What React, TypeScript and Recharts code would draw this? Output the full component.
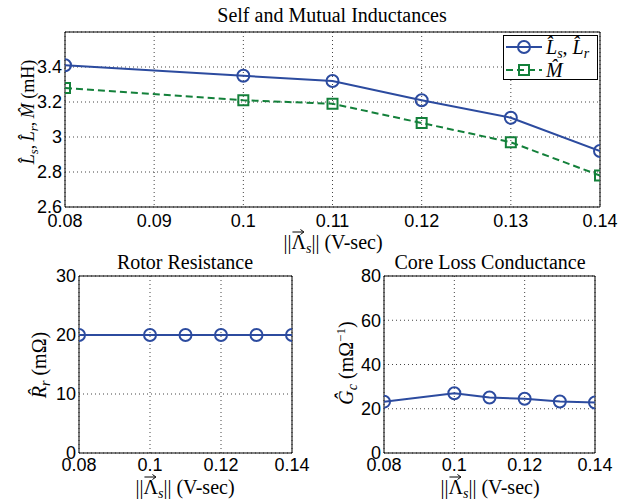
import React from 'react';
import { LineChart, Line, XAxis, YAxis, CartesianGrid, ReferenceArea } from 'recharts';

const fluxLevels = [0.08, 0.1, 0.11, 0.12, 0.13, 0.14];
const selfInductance = [3.41, 3.35, 3.32, 3.21, 3.11, 2.92];
const mutualInductance = [3.28, 3.21, 3.19, 3.08, 2.97, 2.78];
const rotorResistance = [20, 20, 20, 20, 20, 20];
const coreConductance = [23.2, 27.0, 25.1, 24.5, 23.3, 22.8];

const topXTicks = [0.08, 0.09, 0.1, 0.11, 0.12, 0.13, 0.14];
const topYTicks = [2.6, 2.8, 3, 3.2, 3.4];
const bottomXTicks = [0.08, 0.1, 0.12, 0.14];
const rrTicks = [0, 10, 20, 30];
const gcTicks = [0, 20, 40, 60, 80];

const BLUE = '#2C4B9F';
const GREEN = '#13803A';
const SANS = '"Liberation Sans", Arial, sans-serif';
const SERIF = '"Liberation Serif", "DejaVu Serif", serif';

const inductanceData = fluxLevels.map((x, i) => ({ x, ls: selfInductance[i], m: mutualInductance[i] }));
const rrData = fluxLevels.map((x, i) => ({ x, v: rotorResistance[i] }));
const gcData = fluxLevels.map((x, i) => ({ x, v: coreConductance[i] }));

const tickStyle = { fill: '#000', fontSize: 18, fontFamily: SANS };

const circleDot = { r: 6, fill: 'none', stroke: BLUE, strokeWidth: 2 };

const SquareDot = (props: any) => {
  const { cx, cy, index } = props;
  if (cx == null || cy == null) return <g key={'sq' + index} />;
  return (
    <rect key={'sq' + index} x={cx - 5} y={cy - 5} width={10} height={10} fill="none" stroke={GREEN} strokeWidth={2} />
  );
};

const Hat = ({ ch }: { ch: string }) => <i>{ch + '\u0302'}</i>;

const Sub = ({ t }: { t: string }) => (
  <span style={{ fontStyle: 'italic', fontSize: '0.7em', position: 'relative', top: '0.3em' }}>{t}</span>
);

const VecLambda = () => (
  <span style={{ position: 'relative', display: 'inline-block' }}>
    Λ
    <svg width={12} height={6} style={{ position: 'absolute', left: 1, top: -3, overflow: 'visible' }}>
      <line x1={0} y1={3} x2={11} y2={3} stroke="#000" strokeWidth={1} />
      <path d="M8,0.5 L11.5,3 L8,5.5" fill="none" stroke="#000" strokeWidth={1} />
    </svg>
  </span>
);

const FluxLabel = () => (
  <span>
    ||<VecLambda />
    <Sub t="s" />|| (V-sec)
  </span>
);

const Txt = ({ x, y, children, rotate, size = 20 }: any) => (
  <div
    style={{
      position: 'absolute',
      left: x,
      top: y,
      transform: `translate(-50%, -50%)${rotate ? ' rotate(-90deg)' : ''}`,
      whiteSpace: 'nowrap',
      fontFamily: SERIF,
      fontSize: size,
      color: '#000',
      lineHeight: 1,
    }}
  >
    {children}
  </div>
);

export default function App() {
  return (
    <div style={{ position: 'absolute', left: 0, top: 0, width: 618, height: 501, background: '#fff', overflow: 'hidden' }}>
      <div style={{ position: 'absolute', left: 0, top: 0 }}>
        <LineChart width={618} height={260} data={inductanceData} margin={{ top: 32, right: 18, left: 0, bottom: 0 }}>
          <CartesianGrid stroke="#444" strokeDasharray="1 3" />
          <XAxis dataKey="x" type="number" domain={[0.08, 0.14]} ticks={topXTicks} interval={0} tickLine={false} tickSize={0} tickMargin={7} height={53} axisLine={false} tick={tickStyle} allowDataOverflow />
          <YAxis type="number" domain={[2.6, 3.6]} ticks={topYTicks} interval={0} tickLine={false} tickSize={0} tickMargin={3} width={65} axisLine={false} tick={tickStyle} allowDataOverflow />
          <ReferenceArea x1={0.08} x2={0.14} y1={2.6} y2={3.6} fill="none" stroke="#000" strokeWidth={1} ifOverflow="visible" />
          <Line dataKey="ls" stroke={BLUE} strokeWidth={2} dot={circleDot} isAnimationActive={false} />
          <Line dataKey="m" stroke={GREEN} strokeWidth={2} strokeDasharray="7 4" dot={SquareDot} isAnimationActive={false} />
        </LineChart>
      </div>

      <div style={{ position: 'absolute', left: 0, top: 260 }}>
        <LineChart width={310} height={241} data={rrData} margin={{ top: 16, right: 18, left: 0, bottom: 0 }}>
          <CartesianGrid stroke="#444" strokeDasharray="1 3" />
          <XAxis dataKey="x" type="number" domain={[0.08, 0.14]} ticks={bottomXTicks} interval={0} tickLine={false} tickSize={0} tickMargin={5} height={48} axisLine={false} tick={tickStyle} allowDataOverflow />
          <YAxis type="number" domain={[0, 30]} ticks={rrTicks} interval={0} tickLine={false} tickSize={0} tickMargin={3} width={79} axisLine={false} tick={tickStyle} allowDataOverflow />
          <ReferenceArea x1={0.08} x2={0.14} y1={0} y2={30} fill="none" stroke="#000" strokeWidth={1} ifOverflow="visible" />
          <Line dataKey="v" stroke={BLUE} strokeWidth={2} dot={circleDot} isAnimationActive={false} />
        </LineChart>
      </div>

      <div style={{ position: 'absolute', left: 310, top: 260 }}>
        <LineChart width={308} height={241} data={gcData} margin={{ top: 16, right: 23, left: 0, bottom: 0 }}>
          <CartesianGrid stroke="#444" strokeDasharray="1 3" />
          <XAxis dataKey="x" type="number" domain={[0.08, 0.14]} ticks={bottomXTicks} interval={0} tickLine={false} tickSize={0} tickMargin={5} height={48} axisLine={false} tick={tickStyle} allowDataOverflow />
          <YAxis type="number" domain={[0, 80]} ticks={gcTicks} interval={0} tickLine={false} tickSize={0} tickMargin={3} width={74} axisLine={false} tick={tickStyle} allowDataOverflow />
          <ReferenceArea x1={0.08} x2={0.14} y1={0} y2={80} fill="none" stroke="#000" strokeWidth={1} ifOverflow="visible" />
          <Line dataKey="v" stroke={BLUE} strokeWidth={2} dot={circleDot} isAnimationActive={false} />
        </LineChart>
      </div>

      {/* Titles */}
      <Txt x={332} y={15}>Self and Mutual Inductances</Txt>
      <Txt x={185} y={262}>Rotor Resistance</Txt>
      <Txt x={490} y={262}>Core Loss Conductance</Txt>

      {/* X labels */}
      <Txt x={333} y={242}><FluxLabel /></Txt>
      <Txt x={185} y={487}><FluxLabel /></Txt>
      <Txt x={490} y={487}><FluxLabel /></Txt>

      {/* Y labels */}
      <Txt x={28} y={112} rotate size={18}>
        <Hat ch="L" /><Sub t="s" />,{'\u2009'}<Hat ch="L" /><Sub t="r" />,{'\u2009'}<Hat ch="M" /> (mH)
      </Txt>
      <Txt x={39} y={365} rotate>
        <Hat ch="R" /><Sub t="r" /> (mΩ)
      </Txt>
      <Txt x={345} y={363} rotate>
        <Hat ch="G" /><Sub t="c" /> (mΩ<sup style={{ fontSize: '0.65em' }}>−1</sup>)
      </Txt>

      {/* Legend */}
      <div style={{ position: 'absolute', left: 503, top: 35, width: 95, height: 45, boxSizing: 'border-box', border: '1px solid #000', background: '#fff', fontFamily: SERIF, fontSize: 20 }}>
        <div style={{ position: 'absolute', left: 1, top: 0, height: 22, display: 'flex', alignItems: 'center' }}>
          <svg width={38} height={16} style={{ display: 'block' }}>
            <line x1={1} y1={8} x2={37} y2={8} stroke={BLUE} strokeWidth={2} />
            <circle cx={19} cy={8} r={6} fill="none" stroke={BLUE} strokeWidth={2} />
          </svg>
          <span style={{ marginLeft: 3, whiteSpace: 'nowrap', lineHeight: 1 }}>
            <Hat ch="L" /><Sub t="s" />, <Hat ch="L" /><Sub t="r" />
          </span>
        </div>
        <div style={{ position: 'absolute', left: 1, top: 23, height: 22, display: 'flex', alignItems: 'center' }}>
          <svg width={38} height={16} style={{ display: 'block' }}>
            <line x1={1} y1={8} x2={37} y2={8} stroke={GREEN} strokeWidth={2} strokeDasharray="7 4" />
            <rect x={14} y={3} width={10} height={10} fill="none" stroke={GREEN} strokeWidth={2} />
          </svg>
          <span style={{ marginLeft: 3, whiteSpace: 'nowrap', lineHeight: 1 }}>
            <Hat ch="M" />
          </span>
        </div>
      </div>
    </div>
  );
}
